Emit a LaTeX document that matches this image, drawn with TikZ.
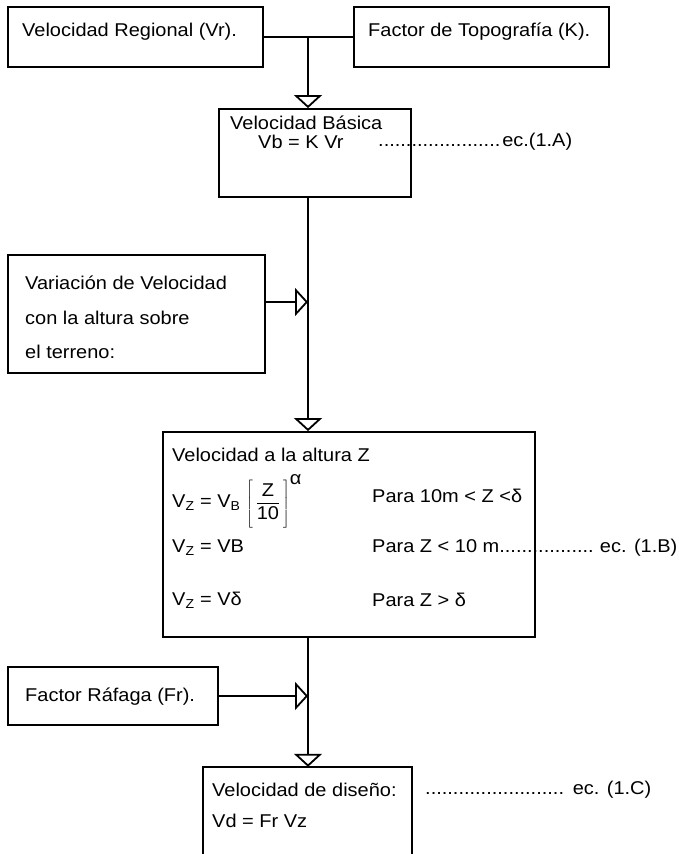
\documentclass[tikz,border=0pt]{standalone}
\usepackage{fontspec}
\setmainfont{Liberation Sans}[FakeStretch=1.08]
\usetikzlibrary{arrows.meta,fit}
\newcommand\dotrun[1]{\makebox[#1]{\leaders\hbox{.}\hfill}}
\begin{document}
\begin{tikzpicture}[x=1pt,y=-1pt,
  frame/.style={draw,line width=1.8pt,inner sep=0pt},
  ghost/.style={inner sep=0pt},
  txt/.style={inner sep=0pt,anchor=west,font=\fontsize{18.5}{22}\selectfont},
  link/.style={line width=1.8pt},
  flow/.style={line width=1.8pt,-{Triangle[open,width=28pt,length=13pt]}}
]
\useasboundingbox (0,0) rectangle (679,854);
% boxes
\node[frame,fit={(8,7)(263,67)}] (b1) {};
\node[frame,fit={(354,7)(609,67)}] (b2) {};
\node[frame,fit={(219,109)(411,197)}] (b3) {};
\node[frame,fit={(8,255)(265,373)}] (b4) {};
\node[frame,fit={(163,432)(535,637)}] (b5) {};
\node[frame,fit={(8,667)(218,725)}] (b6) {};
\node[ghost,fit={(203,767)(412,880)}] (b7) {};
\draw[link] (b7.south west) -- (b7.north west) -- (b7.north east) -- (b7.south east);
% texts
\node[txt] (t1) at (22,32) {Velocidad Regional (Vr).};
\node[txt] (t2) at (368,32) {Factor de Topografía (K).};
\node[txt] (t3a) at (230,123) {Velocidad Básica};
\node[txt] (t3b) at (258,142) {Vb = K Vr};
\node[txt] (e1) at (378,142) {\dotrun{124pt}ec.(1.A)};
\node[txt] (t4a) at (25,283) {Variación de Velocidad};
\node[txt] (t4b) at (25,318) {con la altura sobre};
\node[txt] (t4c) at (25,352) {el terreno:};
\node[txt] (t5a) at (172,455) {Velocidad a la altura Z};
\node[txt] (t5b) at (172,501) {V\textsubscript{Z} = V\textsubscript{B}\hspace{0.3em}$\displaystyle\left[\rule[-19pt]{0pt}{44pt}\,\frac{\mbox{Z}}{\mbox{10}}\,\right]^{\mbox{α}}$};
\node[txt] (p1) at (372,496) {Para 10m < Z <δ};
\node[txt] (t5c) at (172,548) {V\textsubscript{Z} = VB};
\node[txt] (p2) at (372,548) {Para Z < 10 m\dotrun{95pt} ec. (1.B)};
\node[txt] (t5d) at (172,600) {V\textsubscript{Z} = Vδ};
\node[txt] (p3) at (372,600) {Para Z > δ};
\node[txt] (t6) at (25,697) {Factor Ráfaga (Fr).};
\node[txt] (t7a) at (212,790) {Velocidad de diseño:};
\node[txt] (e3) at (425,790) {\dotrun{142pt} ec. (1.C)};
\node[txt] (t7b) at (212,821) {Vd = Fr Vz};
% connectors
\coordinate (J) at (308,37);
\coordinate (m4) at (308,302);
\draw[link] (b1.east) -- (b2.west);
\draw[flow] (J) -- (J |- b3.north);
\draw[flow] (J |- b3.south) -- (J |- b5.north);
\draw[flow] (m4 -| b4.east) -- (m4);
\draw[flow] (J |- b5.south) -- (J |- b7.north);
\draw[flow] (b6.east) -- (b6.east -| J);
\end{tikzpicture}
\end{document}
